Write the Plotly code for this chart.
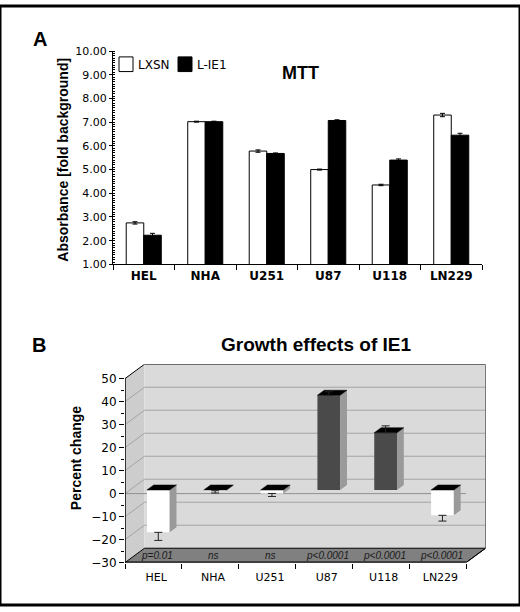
import numpy as np
import plotly.graph_objects as go

# ---- data ----
cells = ["HEL", "NHA", "U251", "U87", "U118", "LN229"]

# panel A: MTT absorbance (fold background)
lxsn = [2.75, 7.02, 5.78, 5.00, 4.35, 7.30]
lxsn_err = [0.05, 0.02, 0.05, 0.02, 0.03, 0.07]
lie1 = [2.23, 7.02, 5.68, 7.07, 5.40, 6.45]
lie1_err = [0.08, 0.02, 0.02, 0.03, 0.05, 0.08]

# panel B: percent change L-IE1 vs LXSN
pct_change = [-18.4, -0.3, -1.5, 41.2, 24.9, -11.0]
pct_err = [3.5, 1.0, 1.3, 1.5, 3.0, 2.5]
p_labels = ["p=0.01", "ns", "ns", "p<0.0001", "p<0.0001", "p<0.0001"]

W, H = 520, 612
VERDANA = "DejaVu Sans"
ARIAL = "Liberation Sans"


def px_x(p):
    return p / W


def px_y(p):
    return 1 - p / H


# fake 3D geometry for panel B (depth offsets in data units)
Y_MIN, Y_MAX = -30, 50
DX, DY = 0.343, 6.25      # full depth shift of the back wall
Z0, Z1 = 0.25, 0.60       # bar front / back depth
BW = 0.40                 # bar width in category units
n = len(cells)
xi = np.arange(n)
v = np.array(pct_change)
e = np.array(pct_err)

fig = go.Figure()

# ---------- panel A ----------
fig.add_trace(go.Bar(
    x=cells, y=lxsn, name="LXSN", showlegend=False,
    marker=dict(color="white", line=dict(color="black", width=1)),
    error_y=dict(type="data", array=lxsn_err, color="black", thickness=1, width=2.5),
    xaxis="x", yaxis="y"
))
fig.add_trace(go.Bar(
    x=cells, y=lie1, name="L-IE1", showlegend=False,
    marker=dict(color="black", line=dict(color="black", width=1)),
    error_y=dict(type="data", array=lie1_err, color="black", thickness=1, width=2.5),
    xaxis="x", yaxis="y"
))

# ---------- panel B ----------
x_front = xi + Z0 * DX
x_l = x_front - BW / 2
x_r = x_front + BW / 2
dd = (Z1 - Z0) * DX
top = np.maximum(v, 0)

side_x, side_y, top_x, top_y = [], [], [], []
for k in range(n):
    side_x += [x_r[k], x_r[k], x_r[k] + dd, x_r[k] + dd, x_r[k], None]
    side_y += [Z0 * DY, v[k] + Z0 * DY, v[k] + Z1 * DY, Z1 * DY, Z0 * DY, None]
    top_x += [x_l[k], x_r[k], x_r[k] + dd, x_l[k] + dd, x_l[k], None]
    top_y += [top[k] + Z0 * DY, top[k] + Z0 * DY, top[k] + Z1 * DY,
              top[k] + Z1 * DY, top[k] + Z0 * DY, None]

fig.add_trace(go.Bar(
    x=x_front, y=v, base=Z0 * DY, width=BW, showlegend=False,
    marker=dict(color=["#4a4a4a" if val > 0 else "white" for val in v], line=dict(width=0)),
    xaxis="x2", yaxis="y2", hoverinfo="skip"
))
fig.add_trace(go.Scatter(
    x=side_x, y=side_y, mode="lines", fill="toself", fillcolor="#9a9a9a",
    line=dict(width=0, color="#9a9a9a"), showlegend=False,
    xaxis="x2", yaxis="y2", hoverinfo="skip"
))
fig.add_trace(go.Scatter(
    x=top_x, y=top_y, mode="lines", fill="toself", fillcolor="black",
    line=dict(width=0.5, color="black"), showlegend=False,
    xaxis="x2", yaxis="y2", hoverinfo="skip"
))
fig.add_trace(go.Scatter(
    x=x_front, y=v + Z0 * DY, mode="markers", marker=dict(size=1, opacity=0),
    error_y=dict(type="data", symmetric=False,
                 array=np.where(v > 0, e, 0), arrayminus=np.where(v < 0, e, 0),
                 color="#222222", thickness=1, width=4),
    showlegend=False, xaxis="x2", yaxis="y2", hoverinfo="skip"
))

# walls / floor of the 3D box
xa, xb = -0.5, n - 0.5
shapes = [
    dict(type="rect", xref="paper", yref="paper", x0=0, x1=1, y0=0, y1=1,
         line=dict(color="black", width=3), layer="above"),
    # legend swatches for panel A
    dict(type="rect", xref="paper", yref="paper", x0=px_x(119), x1=px_x(133),
         y0=px_y(67), y1=px_y(52), fillcolor="white", line=dict(color="black", width=1)),
    dict(type="rect", xref="paper", yref="paper", x0=px_x(178), x1=px_x(192),
         y0=px_y(67), y1=px_y(52), fillcolor="black", line=dict(color="black", width=1)),
    dict(type="path", xref="x2", yref="y2", layer="below",
         path=f"M{xa},{Y_MIN} L{xa},{Y_MAX} L{xa + DX},{Y_MAX + DY} L{xa + DX},{Y_MIN + DY} Z",
         fillcolor="#cdcdcd", line=dict(width=0)),
    dict(type="rect", xref="x2", yref="y2", layer="below",
         x0=xa + DX, x1=xb + DX, y0=Y_MIN + DY, y1=Y_MAX + DY,
         fillcolor="#dadada", line=dict(width=0)),
]
for g in range(Y_MIN + 10, Y_MAX, 10):
    shapes.append(dict(type="line", xref="x2", yref="y2", layer="below",
                       x0=xa + DX, x1=xb + DX, y0=g + DY, y1=g + DY,
                       line=dict(color="#a4a4a4", width=1)))
    shapes.append(dict(type="line", xref="x2", yref="y2", layer="below",
                       x0=xa, x1=xa + DX, y0=g, y1=g + DY,
                       line=dict(color="#a4a4a4", width=1)))
shapes += [
    dict(type="path", xref="x2", yref="y2", layer="below",
         path=f"M{xa},{Y_MIN} L{xb},{Y_MIN} L{xb + DX},{Y_MIN + DY} L{xa + DX},{Y_MIN + DY} Z",
         fillcolor="#808080", line=dict(color="black", width=1)),
    dict(type="line", xref="x2", yref="y2", layer="below",
         x0=xa, x1=xb, y0=0, y1=0, line=dict(color="#909090", width=1)),
    dict(type="path", xref="x2", yref="y2", layer="below",
         path=f"M{xa},{Y_MAX} L{xa + DX},{Y_MAX + DY} L{xb + DX},{Y_MAX + DY} "
              f"L{xb + DX},{Y_MIN + DY} L{xb},{Y_MIN}",
         line=dict(color="black", width=1)),
    dict(type="line", xref="x2", yref="y2", layer="above",
         x0=xa, x1=xb, y0=Y_MIN, y1=Y_MIN, line=dict(color="black", width=2)),
    dict(type="line", xref="x2", yref="y2", layer="above",
         x0=xa, x1=xa, y0=Y_MIN, y1=Y_MAX, line=dict(color="black", width=1.5)),
]

annotations = [
    dict(text="<b>A</b>", x=px_x(40), y=px_y(34), font=dict(family=ARIAL, size=20)),
    dict(text="<b>B</b>", x=px_x(39), y=px_y(346), font=dict(family=ARIAL, size=20)),
    dict(text="<b>MTT</b>", x=px_x(300), y=px_y(68), font=dict(family=ARIAL, size=18)),
    dict(text="<b>Growth effects of IE1</b>", x=px_x(316), y=px_y(346),
         font=dict(family=ARIAL, size=19)),
    dict(text="<b>Absorbance [fold background]</b>", x=px_x(63), y=px_y(157),
         textangle=-90, font=dict(family=ARIAL, size=14)),
    dict(text="<b>Percent change</b>", x=px_x(76), y=px_y(462),
         textangle=-90, font=dict(family=ARIAL, size=14)),
]
for a in annotations:
    a.update(xanchor="center")
annotations += [
    dict(text="LXSN", x=px_x(136), y=px_y(60), xanchor="left",
         font=dict(family=VERDANA, size=12)),
    dict(text="L-IE1", x=px_x(195), y=px_y(60), xanchor="left",
         font=dict(family=VERDANA, size=12)),
]
for a in annotations:
    a.update(xref="paper", yref="paper", showarrow=False, yanchor="middle")
for k, lab in enumerate(p_labels):
    annotations.append(dict(text=f"<i>{lab}</i>", x=xi[k] + 0.06, y=Y_MIN + 3.3,
                            xref="x2", yref="y2", showarrow=False,
                            font=dict(family=ARIAL, size=10, color="#1a1a1a")))

fig.update_layout(
    width=W, height=H, autosize=False,
    margin=dict(l=0, r=0, t=0, b=0),
    font=dict(family=VERDANA, color="black"),
    paper_bgcolor="white", plot_bgcolor="rgba(0,0,0,0)",
    barmode="group", bargap=0.43, bargroupgap=0,
    showlegend=False,
    xaxis=dict(domain=[px_x(113), px_x(482)], anchor="y", type="category",
               range=[-0.5, n - 0.5], showline=True, linecolor="black", linewidth=1,
               ticks="outside", tickson="boundaries", ticklen=5, tickcolor="black",
               tickfont=dict(family=VERDANA, size=12, color="black", weight="bold"),
               showgrid=False, fixedrange=True),
    yaxis=dict(domain=[px_y(264), px_y(46)], anchor="x", range=[1, 10],
               tickvals=list(range(1, 11)), tickformat=".2f",
               ticks="outside", ticklen=3, tickcolor="black",
               minor=dict(dtick=0.1, ticks="inside", ticklen=2, tickcolor="black"),
               showline=True, linecolor="black", linewidth=1,
               showgrid=False, zeroline=False,
               tickfont=dict(family=VERDANA, size=11, color="black")),
    xaxis2=dict(domain=[px_x(125), px_x(485.5)], anchor="y2",
                range=[xa, xb + DX], showline=False, showgrid=False, zeroline=False,
                tickvals=list(xi + 0.05), ticktext=cells, ticks="",
                ticklabelstandoff=6,
                minor=dict(tickvals=list(np.arange(n + 1) - 0.5), ticks="outside",
                           ticklen=5, tickcolor="black"),
                tickfont=dict(family=VERDANA, size=11, color="black")),
    yaxis2=dict(domain=[px_y(568.7), px_y(366)], anchor="x2",
                range=[Y_MIN, Y_MAX + DY], showline=False, showgrid=False, zeroline=False,
                tickvals=list(range(Y_MIN, Y_MAX + 1, 10)),
                ticks="outside", ticklen=5, tickcolor="black",
                minor=dict(tickvals=list(range(Y_MIN + 5, Y_MAX, 10)), ticks="outside",
                           ticklen=3, tickcolor="black"),
                tickfont=dict(family=VERDANA, size=12, color="black")),
    shapes=shapes,
    annotations=annotations,
)

# page margin would push the 520x612 figure off the window edges
fig.write_html("out.html", config={"displayModeBar": False, "responsive": False},
               post_script="document.body.style.margin='0';")
